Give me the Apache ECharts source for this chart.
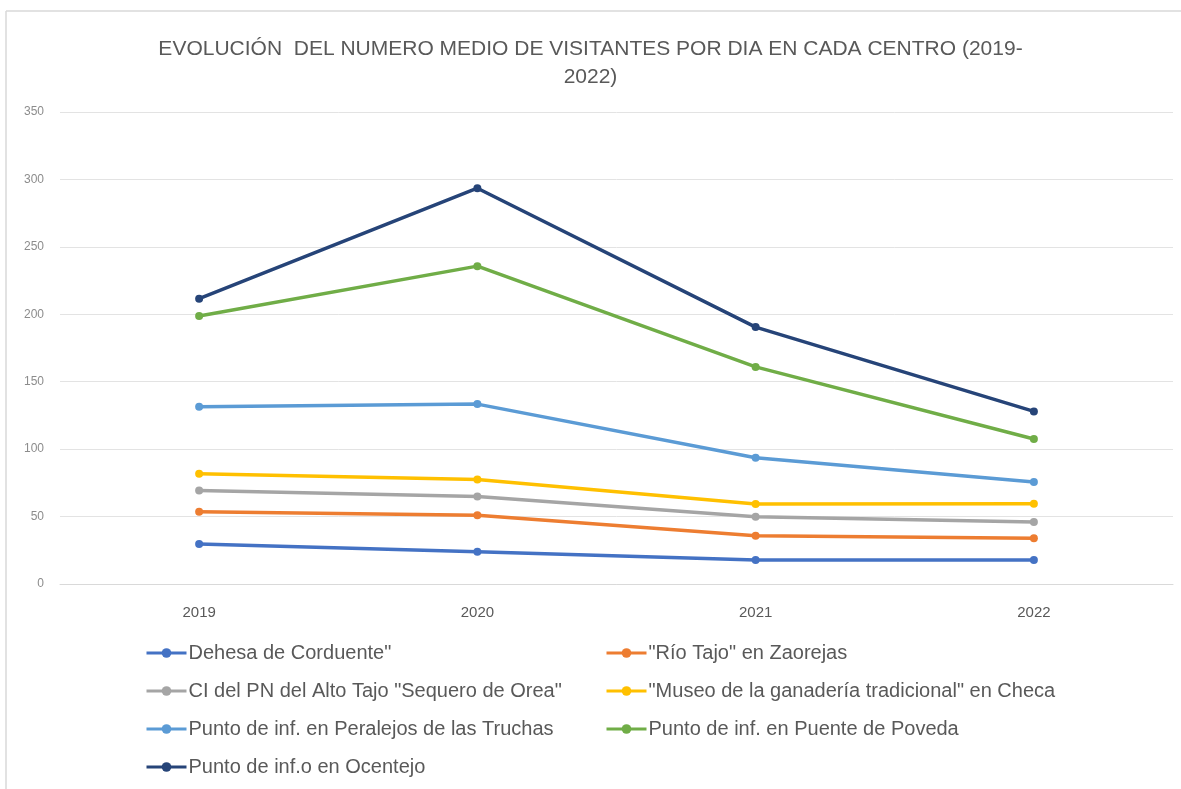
<!DOCTYPE html>
<html>
<head>
<meta charset="utf-8">
<script src="https://cdn.jsdelivr.net/npm/echarts@6/dist/echarts.min.js"></script>
<style>
html,body{margin:0;padding:0;background:#fff;}
#chart{width:1181px;height:789px;}
</style>
</head>
<body>
<div id="chart"></div>
<script>
const years = ['2019', '2020', '2021', '2022'];
const dehesa = [29.7, 24, 17.8, 17.8];
const rioTajo = [53.6, 51, 35.8, 34];
const sequero = [69.4, 64.8, 49.8, 46];
const museo = [81.8, 77.5, 59.3, 59.5];
const peralejos = [131.5, 133.4, 93.6, 75.6];
const poveda = [198.7, 235.7, 161, 107.5];
const ocentejo = [211.6, 293.5, 190.5, 128];
const yTicks = [0, 50, 100, 150, 200, 250, 300, 350];

const names = [
  'Dehesa de Corduente"',
  '"Río Tajo" en Zaorejas',
  'CI del PN del Alto Tajo "Sequero de Orea"',
  '"Museo de la ganadería tradicional" en Checa',
  'Punto de inf. en Peralejos de las Truchas',
  'Punto de inf. en Puente de Poveda',
  'Punto de inf.o en Ocentejo'
];
const values = [dehesa, rioTajo, sequero, museo, peralejos, poveda, ocentejo];
const colors = ['#4472C4', '#ED7D31', '#A5A5A5', '#FFC000', '#5B9BD5', '#70AD47', '#264478'];

const FONT = '"Liberation Sans", Arial, sans-serif';
const chart = echarts.init(document.getElementById('chart'));

const legendCommon = {
  orient: 'vertical',
  padding: 0,
  itemWidth: 40,
  itemHeight: 12,
  itemGap: 18,
  lineStyle: { width: 3 },
  textStyle: { color: '#595959', fontSize: 20, fontFamily: FONT, lineHeight: 20, padding: [0, 0, 0, -3] }
};

chart.setOption({
  animation: false,
  backgroundColor: '#ffffff',
  title: {
    text: 'EVOLUCIÓN  DEL NUMERO MEDIO DE VISITANTES POR DIA EN CADA CENTRO (2019-\n2022)',
    left: 'center',
    top: 30,
    textStyle: { color: '#595959', fontSize: 21, fontWeight: 'normal', fontFamily: FONT, lineHeight: 28, align: 'center' }
  },
  graphic: [
    { type: 'line', shape: { x1: 6, y1: 11, x2: 1181, y2: 11 }, style: { stroke: '#d9d9d9', lineWidth: 1.5 } },
    { type: 'line', shape: { x1: 6, y1: 11, x2: 6, y2: 789 }, style: { stroke: '#d9d9d9', lineWidth: 1.5 } }
  ],
  legend: [
    Object.assign({ left: 145, top: 643, data: [names[0], names[2], names[4], names[6]] }, legendCommon),
    Object.assign({ left: 605, top: 643, data: [names[1], names[3], names[5]] }, legendCommon)
  ],
  grid: { left: 60, right: 8, top: 112, bottom: 205, containLabel: false },
  xAxis: {
    type: 'category',
    data: years,
    boundaryGap: true,
    axisLine: { show: true, lineStyle: { color: '#d9d9d9', width: 1 } },
    axisTick: { show: false },
    axisLabel: { color: '#595959', fontSize: 15, fontFamily: FONT, margin: 21 }
  },
  yAxis: {
    type: 'value',
    min: yTicks[0],
    max: yTicks[yTicks.length - 1],
    interval: yTicks[1] - yTicks[0],
    axisLine: { show: false },
    axisTick: { show: false },
    axisLabel: { color: '#8c8c8c', fontSize: 12, fontFamily: FONT, margin: 16 },
    splitLine: { lineStyle: { color: '#e3e3e3', width: 1 } }
  },
  series: names.map((n, i) => ({
    name: n,
    type: 'line',
    data: values[i],
    symbol: 'circle',
    symbolSize: 8,
    lineStyle: { width: 3.5, color: colors[i] },
    itemStyle: { color: colors[i] }
  }))
});
</script>
</body>
</html>
